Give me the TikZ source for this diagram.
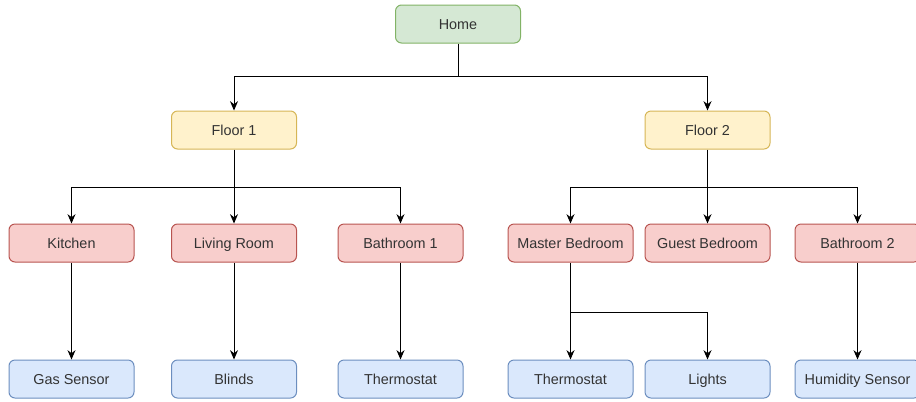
\documentclass[tikz,border=0pt]{standalone}
\usepackage{fontspec}
\setmainfont{Liberation Sans}
\usetikzlibrary{arrows.meta}
\definecolor{gfill}{HTML}{D5E8D4}\definecolor{gline}{HTML}{82B366}
\definecolor{yfill}{HTML}{FFF2CC}\definecolor{yline}{HTML}{D6B656}
\definecolor{rfill}{HTML}{F8CECC}\definecolor{rline}{HTML}{B85450}
\definecolor{bfill}{HTML}{DAE8FC}\definecolor{bline}{HTML}{6C8EBF}
\tikzset{
  box/.style={rounded corners=4.5pt, minimum width=93.75pt, minimum height=28.5pt, inner sep=0pt, text height=9.4pt, text depth=0.8pt, line width=0.75pt, font=\fontsize{10.8}{13}\selectfont, text=black!80},
  gbox/.style={box, fill=gfill, draw=gline},
  ybox/.style={box, fill=yfill, draw=yline},
  rbox/.style={box, fill=rfill, draw=rline},
  bbox/.style={box, fill=bfill, draw=bline},
  conn/.style={line width=0.75pt, draw=black},
  arr/.style={conn, -{Stealth[length=7pt,width=6pt]}}
}
\begin{document}
\begin{tikzpicture}[x=0.75pt,y=-0.75pt]
\useasboundingbox (0,0) rectangle (916,401);
\node[gbox] (home) at (458,24) {Home};
\node[ybox] (f1) at (234,130) {Floor 1};
\node[ybox] (f2) at (707.5,130) {Floor 2};
\node[rbox] (kit) at (71.5,243) {Kitchen};
\node[rbox] (liv) at (234,243) {Living Room};
\node[rbox] (bt1) at (400.5,243) {Bathroom 1};
\node[rbox] (mbr) at (570.5,243) {Master Bedroom};
\node[rbox] (gbr) at (707.5,243) {Guest Bedroom};
\node[rbox] (bt2) at (857.5,243) {Bathroom 2};
\node[bbox] (gas) at (71.5,379) {Gas Sensor};
\node[bbox] (bli) at (234,379) {Blinds};
\node[bbox] (th1) at (400.5,379) {Thermostat};
\node[bbox] (th2) at (570.5,379) {Thermostat};
\node[bbox] (lig) at (707.5,379) {Lights};
\node[bbox] (hum) at (857.5,379) {Humidity Sensor};
\coordinate (j0) at (458,76);
\coordinate (j1) at (234,187);
\coordinate (j2) at (707.5,187);
\coordinate (j3) at (570.5,312);
\draw[conn] (home.south) -- (j0);
\draw[arr] (j0) -| (f1.north);
\draw[arr] (j0) -| (f2.north);
\draw[conn] (f1.south) -- (j1);
\draw[arr] (j1) -| (kit.north);
\draw[arr] (j1) -- (liv.north);
\draw[arr] (j1) -| (bt1.north);
\draw[conn] (f2.south) -- (j2);
\draw[arr] (j2) -| (mbr.north);
\draw[arr] (j2) -- (gbr.north);
\draw[arr] (j2) -| (bt2.north);
\draw[arr] (kit.south) -- (gas.north);
\draw[arr] (liv.south) -- (bli.north);
\draw[arr] (bt1.south) -- (th1.north);
\draw[arr] (mbr.south) -- (th2.north);
\draw[arr] (j3) -| (lig.north);
\draw[arr] (bt2.south) -- (hum.north);
\end{tikzpicture}
\end{document}
